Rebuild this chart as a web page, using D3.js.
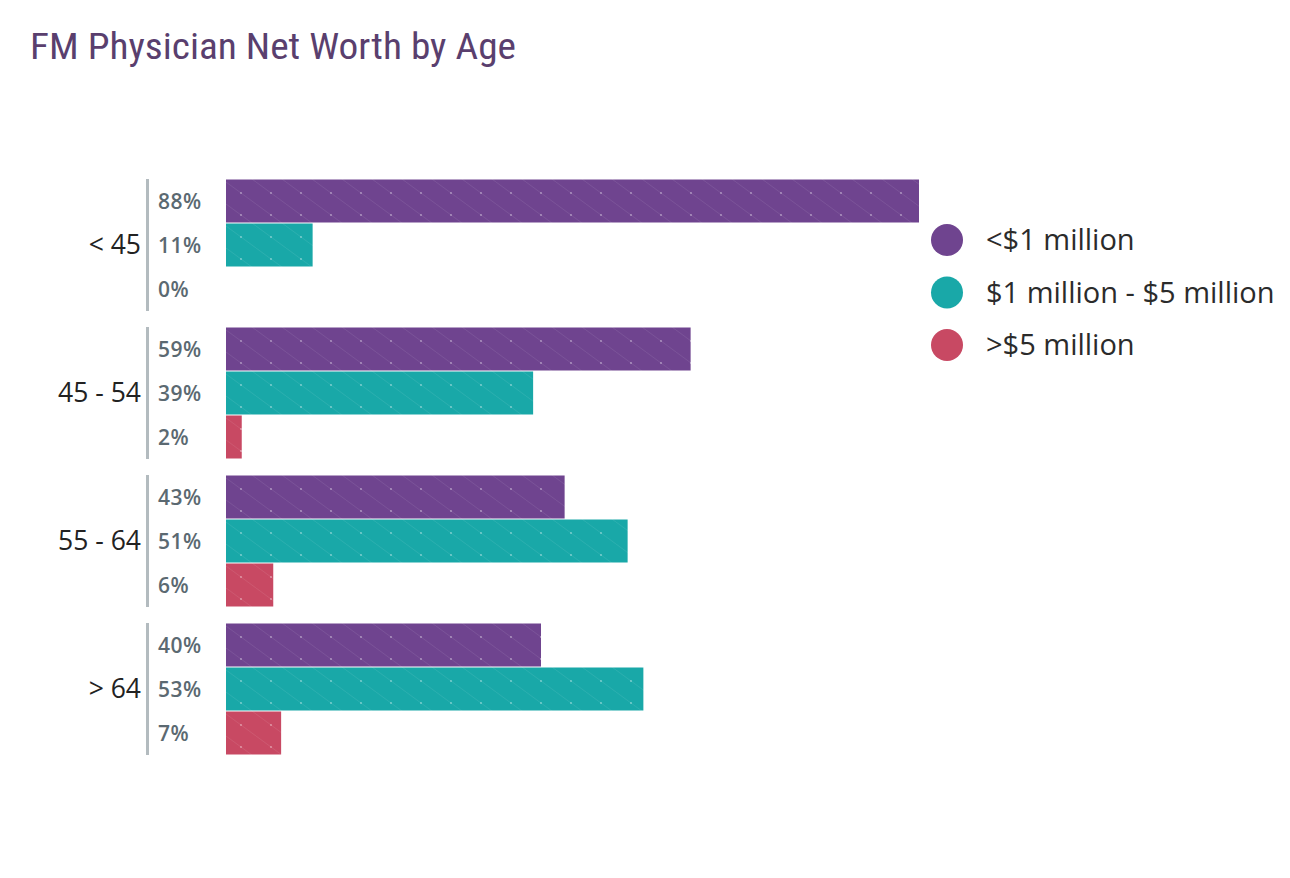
<!DOCTYPE html>
<html><head><meta charset="utf-8">
<script src="https://cdn.jsdelivr.net/npm/d3@7"></script>
<style>body{margin:0;background:#fff;}svg{display:block;}</style>
</head><body>
<script>
const ageGroups = ["< 45", "45 - 54", "55 - 64", "> 64"];
const seriesNames = ["<$1 million", "$1 million - $5 million", ">$5 million"];
const under1M = [88, 59, 43, 40];
const from1to5M = [11, 39, 51, 53];
const over5M = [0, 2, 6, 7];
const seriesColors = ["#6f448f", "#19a8a8", "#c84963"];
const title = "FM Physician Net Worth by Age";

const seriesValues = [under1M, from1to5M, over5M];
const W = 1290, H = 878;
const svg = d3.select("body").append("svg").attr("width", W).attr("height", H);
const bodyFont = "'Open Sans', Lato, sans-serif";

const defs = svg.append("defs");
seriesColors.forEach((c, i) => {
  const p = defs.append("pattern").attr("id", "pat" + i).attr("patternUnits", "userSpaceOnUse")
    .attr("width", 30).attr("height", 22).attr("x", 226).attr("y", 179);
  p.append("rect").attr("width", 30).attr("height", 22).attr("fill", c);
  p.append("line").attr("x1", 0).attr("y1", 0).attr("x2", 30).attr("y2", 22)
    .attr("stroke", "#fff").attr("stroke-opacity", 0.08).attr("stroke-width", 1);
  p.append("circle").attr("cx", 15).attr("cy", 11).attr("r", 0.9).attr("fill", "#fff").attr("fill-opacity", 0.45);
});

svg.append("text").attr("x", 30).attr("y", 59)
  .attr("font-family", "'Roboto Condensed','Liberation Sans Narrow','DejaVu Sans Condensed',Roboto,sans-serif")
  .attr("font-size", 37).attr("fill", "#5a3f6e")
  .attr("textLength", 486).attr("lengthAdjust", "spacingAndGlyphs")
  .text(title);

const x = d3.scaleLinear().domain([0, 100]).range([226, 226 + 787.5]);
const yGroup = d3.scaleBand().domain(ageGroups).range([179, 179 + 148 * 4 - 16]).paddingInner(16 / 148);
const yInner = d3.scaleBand().domain(d3.range(3)).range([0, yGroup.bandwidth()]);

const g = svg.selectAll("g.grp").data(ageGroups).join("g").attr("class", "grp")
  .attr("transform", d => `translate(0,${yGroup(d)})`);

g.append("rect").attr("x", 146).attr("y", 0).attr("width", 3).attr("height", yGroup.bandwidth()).attr("fill", "#b3bbbf");

g.append("text").attr("x", 141).attr("y", yGroup.bandwidth() / 2 + 9)
  .attr("text-anchor", "end").attr("font-family", bodyFont)
  .attr("font-size", 26.5).attr("fill", "#222").text(d => d);

g.each(function(d, gi) {
  const gg = d3.select(this);
  seriesValues.forEach((vals, si) => {
    const v = vals[gi];
    const y0 = yInner(si);
    if (v > 0) {
      gg.append("rect").attr("x", x(0)).attr("y", y0 + 0.5).attr("width", x(v) - x(0))
        .attr("height", yInner.bandwidth() - 1).attr("fill", `url(#pat${si})`);
    }
    gg.append("text").attr("x", 158).attr("y", y0 + yInner.bandwidth() / 2 + 7.5)
      .attr("font-family", bodyFont).attr("font-weight", 600).attr("letter-spacing", 0.5)
      .attr("font-size", 21).attr("fill", "#5b6971").text(v + "%");
  });
});

const lg = svg.selectAll("g.leg").data(seriesNames).join("g").attr("class", "leg")
  .attr("transform", (d, i) => `translate(947,${240 + i * 52.5})`);
lg.append("circle").attr("r", 16).attr("fill", (d, i) => seriesColors[i]);
lg.append("text").attr("x", 39).attr("y", 10).attr("font-family", bodyFont)
  .attr("font-size", 29).attr("fill", "#2b2b2b").text(d => d);
</script>
</body></html>
